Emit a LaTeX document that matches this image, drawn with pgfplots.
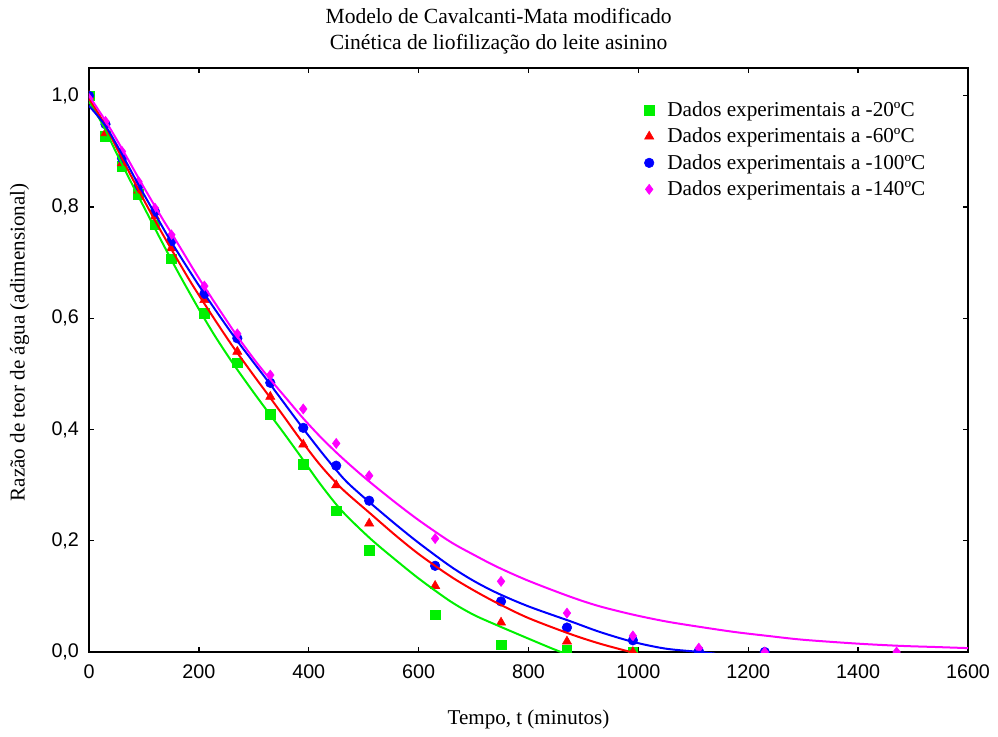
\documentclass[border=0pt]{standalone}
\usepackage{fontspec}
\setmainfont{Liberation Serif}
\setsansfont{Liberation Sans}
\usepackage{pgfplots}
\pgfplotsset{compat=1.18}
\definecolor{cgreen}{RGB}{0,240,0}
\definecolor{cred}{RGB}{255,0,0}
\definecolor{cblue}{RGB}{0,0,255}
\definecolor{cmag}{RGB}{255,0,255}
\begin{document}
\begin{tikzpicture}
\begin{axis}[
  scale only axis, width=659.25pt, height=438pt,
  xmin=0, xmax=1600, ymin=0, ymax=1.05,
  xtick={0,200,400,600,800,1000,1200,1400,1600},
  ytick={0,0.2,0.4,0.6,0.8,1.0},
  /pgf/number format/assume math mode=true,
  xticklabel style={/pgf/number format/1000 sep={}, yshift=-6pt},
  yticklabel style={/pgf/number format/fixed, /pgf/number format/fixed zerofill, /pgf/number format/precision=1, /pgf/number format/use comma, xshift=-4pt},
  ticklabel style={font=\fontsize{14.8}{17}\sffamily},
  axis line style={line width=1.2pt},
  tick style={black, line width=1pt},
  major tick length=4pt,
  clip marker paths=true,
  title={Modelo de Cavalcanti-Mata modificado\\Cinética de liofilização do leite asinino},
  title style={align=center, font=\fontsize{16.2}{19.5}\selectfont, at={(axis description cs:0.466,1.05)}, anchor=center},
  xlabel={Tempo, t (minutos)},
  xlabel style={at={(axis description cs:0.5,-0.115)}, anchor=center, font=\fontsize{15.8}{19}\selectfont},
  ylabel={Razão de teor de água (adimensional)},
  ylabel style={at={(axis description cs:-0.079,0.53)}, anchor=center, font=\fontsize{15.8}{19}\selectfont},
  legend style={draw=none, fill=none, at={(axis description cs:0.627,0.952)}, anchor=north west, font=\fontsize{15.9}{19}\selectfont, row sep=3.3pt, /tikz/every odd column/.append style={column sep=8pt}},
  legend cell align=left,
]
% experimental data
\addplot[only marks, mark=square*, mark size=3.6pt, color=cgreen] coordinates {
(0,1.0)(30,0.927)(60,0.873)(90,0.823)(120,0.768)(150,0.707)(210,0.609)(270,0.520)(330,0.427)(390,0.338)(450,0.254)(510,0.183)(630,0.067)(750,0.013)(870,0.004)(990,0.0)};
\addlegendentry{Dados experimentais a -20ºC}
\addplot[only marks, mark=triangle*, mark size=4pt, color=cred] coordinates {
(0,1.0)(30,0.933)(60,0.879)(90,0.830)(120,0.783)(150,0.726)(210,0.633)(270,0.540)(330,0.459)(390,0.373)(450,0.300)(510,0.231)(630,0.119)(750,0.053)(870,0.019)(990,0.0)(1110,0.0)};
\addlegendentry{Dados experimentais a -60ºC}
\addplot[only marks, mark=*, mark size=3.6pt, color=cblue] coordinates {
(0,1.0)(30,0.949)(60,0.888)(90,0.838)(120,0.792)(150,0.739)(210,0.644)(270,0.564)(330,0.484)(390,0.403)(450,0.335)(510,0.272)(630,0.155)(750,0.091)(870,0.044)(990,0.021)(1110,0.002)(1230,0.0)};
\addlegendentry{Dados experimentais a -100ºC}
\addplot[only marks, mark=diamond*, mark size=3.8pt, color=cmag] coordinates {
(0,0.995)(30,0.954)(60,0.900)(90,0.846)(120,0.798)(150,0.750)(210,0.658)(270,0.572)(330,0.498)(390,0.437)(450,0.375)(510,0.317)(630,0.204)(750,0.127)(870,0.070)(990,0.029)(1110,0.007)(1230,0.0)(1470,0.0)};
\addlegendentry{Dados experimentais a -140ºC}
% fitted curves
\addplot[forget plot, smooth, no marks, color=cgreen, line width=1.5pt] coordinates {
(0,0.99)(25,0.948)(50,0.897)(78,0.842)(100,0.80)(125,0.752)(150,0.705)(171,0.667)(202,0.613)(230,0.567)(262,0.519)(295,0.473)(324,0.434)(355,0.393)(385,0.352)(421,0.302)(460,0.254)(512,0.204)(560,0.164)(603,0.130)(658,0.091)(700,0.067)(743,0.048)(800,0.024)(846,0.005)(875,-0.006)};
\addplot[forget plot, smooth, no marks, color=cred, line width=1.5pt] coordinates {
(0,0.995)(25,0.955)(50,0.907)(84,0.842)(120,0.776)(150,0.724)(187,0.662)(230,0.596)(262,0.549)(300,0.497)(324,0.465)(355,0.423)(385,0.382)(421,0.336)(460,0.294)(512,0.249)(560,0.208)(603,0.174)(658,0.136)(700,0.111)(743,0.088)(800,0.061)(877,0.032)(930,0.015)(986,0.0)(1010,-0.006)};
\addplot[forget plot, smooth, no marks, color=cblue, line width=1.5pt] coordinates {
(0,0.982)(30,0.946)(60,0.895)(89,0.842)(120,0.788)(150,0.737)(202,0.656)(262,0.570)(324,0.489)(385,0.408)(421,0.362)(445,0.333)(470,0.305)(512,0.268)(560,0.228)(603,0.194)(658,0.154)(700,0.128)(743,0.106)(800,0.082)(877,0.055)(930,0.036)(991,0.018)(1050,0.006)(1113,0.0)(1140,-0.003)};
\addplot[forget plot, smooth, no marks, color=cmag, line width=1.5pt] coordinates {
(0,1.0)(30,0.955)(60,0.905)(96,0.842)(130,0.785)(160,0.737)(202,0.669)(262,0.579)(300,0.527)(330,0.49)(360,0.455)(390,0.42)(421,0.387)(451,0.358)(480,0.332)(512,0.305)(560,0.267)(603,0.235)(658,0.198)(700,0.175)(743,0.153)(800,0.128)(877,0.099)(930,0.082)(991,0.067)(1050,0.055)(1113,0.045)(1175,0.036)(1235,0.029)(1300,0.022)(1400,0.015)(1478,0.011)(1540,0.009)(1600,0.007)};
\end{axis}
\pgfresetboundingbox
\path[use as bounding box] (-66.75pt,-63pt) rectangle (681.75pt,489pt);
\end{tikzpicture}
\end{document}
